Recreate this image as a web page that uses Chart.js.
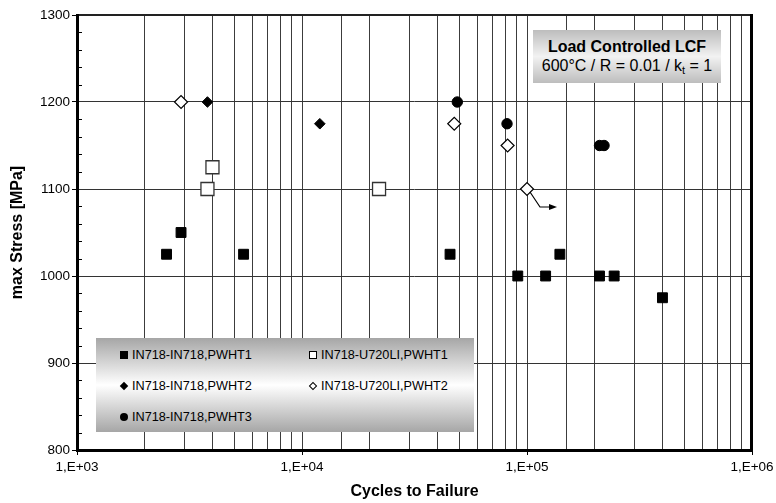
<!DOCTYPE html>
<html>
<head>
<meta charset="utf-8">
<script src="https://cdn.jsdelivr.net/npm/chart.js@4.4.1/dist/chart.umd.min.js"></script>
<style>
  body { margin: 0; background: #fff; font-family: Arial, "Liberation Sans", sans-serif; }
  #wrap { position: relative; width: 776px; height: 503px; }
  #infoBox {
    position: absolute; left: 533px; top: 30px; width: 188px; height: 53px;
    box-sizing: border-box; padding-top: 7px; text-align: center; color: #000;
    background: linear-gradient(to bottom, #bdbdbd 0%, #f2f2f2 50%, #bdbdbd 100%);
    font-size: 16px; line-height: 19px; white-space: nowrap;
  }
  #infoBox b { font-size: 16px; }
  #infoBox sub { font-size: 11px; line-height: 0; vertical-align: -3px; }
  #legendBox {
    position: absolute; left: 96px; top: 338px; width: 378px; height: 94px;
    box-sizing: border-box; padding: 1px 0 0 24px;
    background: linear-gradient(to bottom, #a6a6a6 0%, #ffffff 50%, #a6a6a6 100%);
    display: grid; grid-template-columns: 189px 160px; grid-auto-rows: 31px;
    font-size: 12.7px; color: #000;
  }
  .item { display: flex; align-items: center; white-space: nowrap; }
  .mk { display: inline-block; width: 8px; height: 8px; margin-right: 4px; box-sizing: border-box; }
</style>
</head>
<body>
<div id="wrap">
  <canvas id="lcf_chart" width="776" height="503"></canvas>
  <div id="infoBox"><b>Load Controlled LCF</b><br>600°C / R = 0.01 / k<sub>t</sub> = 1</div>
  <div id="legendBox"></div>
</div>
<script>
// series values (cycles to failure / max stress in MPa)
const in718_pwht1_cycles = [2500, 2900, 5500, 45500, 91000, 121000, 140000, 210000, 244000, 400000];
const in718_pwht1_stress = [1025, 1050, 1025, 1025, 1000, 1000, 1025, 1000, 1000, 975];

const u720_pwht1_cycles = [3800, 4000, 22000];
const u720_pwht1_stress = [1100, 1125, 1100];

const in718_pwht2_cycles = [3800, 12000];
const in718_pwht2_stress = [1200, 1175];

const u720_pwht2_cycles = [2900, 47500, 82000, 100000];
const u720_pwht2_stress = [1200, 1175, 1150, 1100];
const u720_pwht2_runout = [3]; // index of the run-out specimen (arrow)

const in718_pwht3_cycles = [49000, 81500, 210000, 220000];
const in718_pwht3_stress = [1200, 1175, 1150, 1150];

const seriesLabels = [
  'IN718-IN718,PWHT1', 'IN718-U720LI,PWHT1',
  'IN718-IN718,PWHT2', 'IN718-U720LI,PWHT2',
  'IN718-IN718,PWHT3'
];

const xDecades = [1e3, 1e4, 1e5, 1e6];
const xDecadeLabels = ['1,E+03', '1,E+04', '1,E+05', '1,E+06'];
const yMin = 800, yMax = 1300, yStep = 100, yMinorStep = 20;

function toPoints(xs, ys) {
  return xs.map((x, i) => ({x: x, y: ys[i]}));
}

function decadeIndex(v) {
  return xDecades.findIndex(d => Math.abs(v - d) < d * 1e-6);
}

const datasets = [
  {
    label: seriesLabels[0],
    data: toPoints(in718_pwht1_cycles, in718_pwht1_stress),
    pointStyle: 'rect', pointRadius: 7, borderWidth: 1,
    backgroundColor: '#000', borderColor: '#000'
  },
  {
    label: seriesLabels[1],
    data: toPoints(u720_pwht1_cycles, u720_pwht1_stress),
    pointStyle: 'rect', pointRadius: 9.2, borderWidth: 1.3,
    backgroundColor: '#fff', borderColor: '#333'
  },
  {
    label: seriesLabels[2],
    data: toPoints(in718_pwht2_cycles, in718_pwht2_stress),
    pointStyle: 'rectRot', pointRadius: 5.3, borderWidth: 1,
    backgroundColor: '#000', borderColor: '#000'
  },
  {
    label: seriesLabels[3],
    data: toPoints(u720_pwht2_cycles, u720_pwht2_stress),
    pointStyle: 'rectRot', pointRadius: 6.5, borderWidth: 1.2,
    backgroundColor: '#fff', borderColor: '#000'
  },
  {
    label: seriesLabels[4],
    data: toPoints(in718_pwht3_cycles, in718_pwht3_stress),
    pointStyle: 'circle', pointRadius: 5.2, borderWidth: 1,
    backgroundColor: '#000', borderColor: '#000'
  }
];

// frame, minor y ticks and run-out arrow
const extras = {
  id: 'extras',
  afterDatasetsDraw(chart) {
    const ctx = chart.ctx;
    const meta = chart.getDatasetMeta(3);
    u720_pwht2_runout.forEach(i => {
      const p = meta.data[i];
      const x = p.x, y = p.y;
      ctx.save();
      ctx.strokeStyle = '#000';
      ctx.fillStyle = '#000';
      ctx.lineWidth = 1.2;
      ctx.beginPath();
      ctx.moveTo(x + 3, y + 3);
      ctx.lineTo(x + 13, y + 18);
      ctx.lineTo(x + 23, y + 18);
      ctx.stroke();
      ctx.beginPath();
      ctx.moveTo(x + 30, y + 18);
      ctx.lineTo(x + 22, y + 15);
      ctx.lineTo(x + 22, y + 21);
      ctx.closePath();
      ctx.fill();
      ctx.restore();
    });
  },
  afterDraw(chart) {
    const ctx = chart.ctx;
    const a = chart.chartArea;
    const yScale = chart.scales.y;
    ctx.save();
    ctx.strokeStyle = '#000';
    ctx.lineWidth = 1;
    for (let v = yMin; v <= yMax; v += yMinorStep) {
      if (v % yStep === 0) continue;
      const py = Math.round(yScale.getPixelForValue(v)) + 0.5;
      ctx.beginPath();
      ctx.moveTo(a.left, py);
      ctx.lineTo(a.left + 5, py);
      ctx.stroke();
    }
    // top edge
    ctx.strokeStyle = '#222';
    ctx.lineWidth = 2;
    ctx.beginPath();
    ctx.moveTo(a.left, a.top);
    ctx.lineTo(a.right, a.top);
    ctx.stroke();
    // left, bottom, right edges
    ctx.strokeStyle = '#000';
    ctx.lineWidth = 3;
    ctx.beginPath();
    ctx.moveTo(a.left + 0.5, a.top - 1);
    ctx.lineTo(a.left + 0.5, a.bottom + 0.5);
    ctx.lineTo(a.right - 0.5, a.bottom + 0.5);
    ctx.lineTo(a.right - 0.5, a.top - 1);
    ctx.stroke();
    ctx.restore();
  }
};

const fontFamily = 'Arial, "Liberation Sans", sans-serif';

const config = {
  type: 'scatter',
  data: { datasets: datasets },
  options: {
    responsive: false,
    animation: false,
    devicePixelRatio: 1,
    events: [],
    layout: { padding: { top: 15, right: 24, left: 0, bottom: 0 } },
    plugins: {
      legend: { display: false },
      tooltip: { enabled: false },
      title: { display: false }
    },
    scales: {
      x: {
        type: 'logarithmic',
        min: xDecades[0],
        max: xDecades[xDecades.length - 1],
        border: { display: false },
        grid: {
          color: '#3c3c3c',
          lineWidth: 1,
          tickLength: 5,
          tickColor: (c) => (c.tick && decadeIndex(c.tick.value) >= 0 ? '#000' : 'rgba(0,0,0,0)')
        },
        ticks: {
          autoSkip: false,
          maxRotation: 0,
          padding: 4,
          color: '#000',
          font: { family: fontFamily, size: 13.5 },
          callback: (v) => {
            const i = decadeIndex(v);
            return i >= 0 ? xDecadeLabels[i] : '';
          }
        },
        title: {
          display: true,
          text: 'Cycles to Failure',
          color: '#000',
          font: { family: fontFamily, size: 16, weight: 'bold' },
          padding: { top: 0, bottom: 2 }
        },
        afterFit(scale) {
          scale.height = 53;
          scale.paddingLeft = 0;
          scale.paddingRight = 0;
        }
      },
      y: {
        min: yMin,
        max: yMax,
        border: { display: false },
        grid: { color: '#333', lineWidth: 1, tickLength: 5, tickColor: '#000' },
        ticks: {
          stepSize: yStep,
          padding: 2,
          color: '#000',
          font: { family: fontFamily, size: 13.5 },
          callback: (v) => String(v)
        },
        title: {
          display: true,
          text: 'max Stress [MPa]',
          color: '#000',
          font: { family: fontFamily, size: 16, weight: 'bold' },
          padding: { top: 8, bottom: 0 }
        },
        afterFit(scale) {
          scale.width = 77;
          scale.paddingTop = 0;
          scale.paddingBottom = 0;
        }
      }
    }
  },
  plugins: [extras]
};

const lcfChart = new Chart(document.getElementById('lcf_chart').getContext('2d'), config);

// legend built from the datasets
const legendBox = document.getElementById('legendBox');
lcfChart.data.datasets.forEach(ds => {
  const item = document.createElement('div');
  item.className = 'item';
  const mk = document.createElement('span');
  mk.className = 'mk';
  const filled = ds.backgroundColor === '#000';
  if (ds.pointStyle === 'rect') {
    mk.style.background = filled ? '#000' : '#fff';
    if (!filled) mk.style.border = '1px solid #000';
  } else if (ds.pointStyle === 'rectRot') {
    mk.style.width = '6px';
    mk.style.height = '6px';
    mk.style.margin = '0 5px 0 1px';
    mk.style.transform = 'rotate(45deg)';
    mk.style.background = filled ? '#000' : '#fff';
    if (!filled) mk.style.border = '1px solid #000';
  } else {
    mk.style.borderRadius = '50%';
    mk.style.background = '#000';
  }
  item.appendChild(mk);
  item.appendChild(document.createTextNode(ds.label));
  legendBox.appendChild(item);
});
</script>
</body>
</html>
